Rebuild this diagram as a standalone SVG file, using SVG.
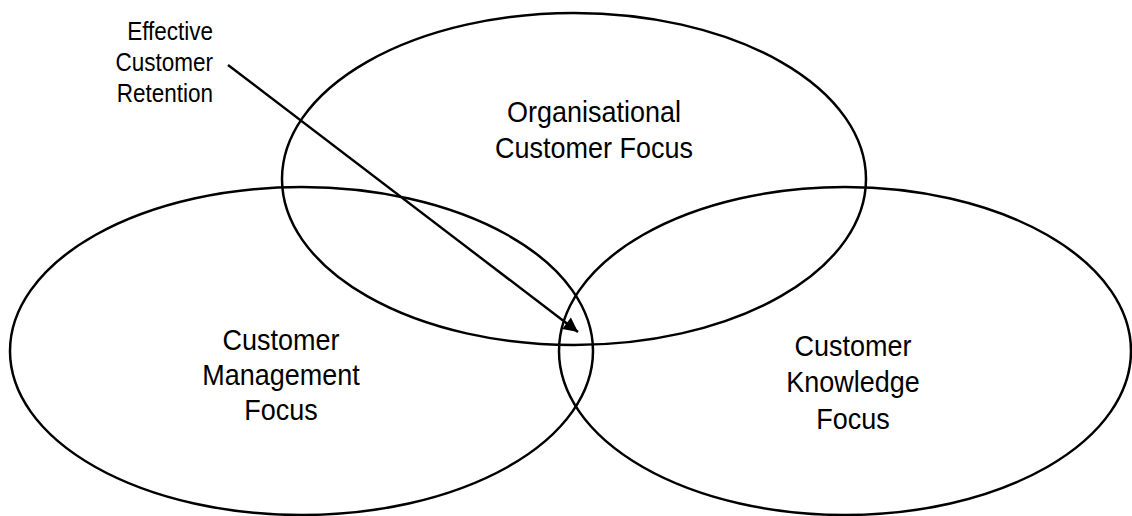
<svg xmlns="http://www.w3.org/2000/svg" width="1132" height="516" viewBox="0 0 1132 516">
<style>
.e{fill:none;stroke:#000;stroke-width:2.5}
.t{font-family:"Liberation Sans",Arial,sans-serif;font-size:30px;fill:#000;text-anchor:middle}
.l{font-family:"Liberation Sans",Arial,sans-serif;font-size:25px;fill:#000;text-anchor:end}
</style>
<defs>
<marker id="ah" viewBox="0 0 10 10" refX="10" refY="5" markerWidth="8" markerHeight="6" markerUnits="strokeWidth" orient="auto">
<path d="M0,0 L10,5 L0,10 z" fill="#000"/>
</marker>
</defs>
<rect width="1132" height="516" fill="#fff"/>
<g id="organisational">
<ellipse class="e" cx="574" cy="179" rx="292" ry="166"/>
<g transform="translate(594,0) scale(0.9,1)">
<text class="t" x="0" y="122">Organisational</text>
<text class="t" x="0" y="158">Customer Focus</text>
</g>
</g>
<g id="management">
<ellipse class="e" cx="301.5" cy="351" rx="291.5" ry="164"/>
<g transform="translate(281,0) scale(0.9,1)">
<text class="t" x="0" y="350">Customer</text>
<text class="t" x="0" y="385">Management</text>
<text class="t" x="0" y="420">Focus</text>
</g>
</g>
<g id="knowledge">
<ellipse class="e" cx="845" cy="351" rx="286" ry="164"/>
<g transform="translate(853,0) scale(0.9,1)">
<text class="t" x="0" y="356">Customer</text>
<text class="t" x="0" y="392">Knowledge</text>
<text class="t" x="0" y="429">Focus</text>
</g>
</g>
<g id="retention">
<g transform="translate(213,0) scale(0.9,1)">
<text class="l" x="0" y="40">Effective</text>
<text class="l" x="0" y="71">Customer</text>
<text class="l" x="0" y="102">Retention</text>
</g>
</g>
<g id="connectors">
<line x1="228" y1="65" x2="578" y2="332" stroke="#000" stroke-width="2.4" marker-end="url(#ah)"/>
</g>
</svg>
